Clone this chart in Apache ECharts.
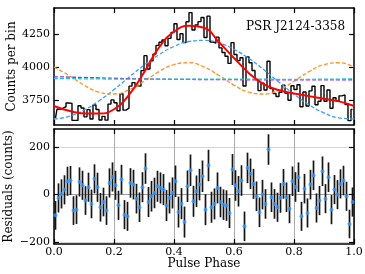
<!DOCTYPE html>
<html>
<head>
<meta charset="utf-8">
<script src="https://cdn.jsdelivr.net/npm/echarts@6/dist/echarts.min.js"></script>
<style>
  html, body { margin: 0; padding: 0; background: #fff; }
  #chart { width: 365px; height: 274px; }
</style>
</head>
<body>
<div id="chart"></div>
<script>
// counts in each of the 100 phase bins
const counts = [
  3614, 3680, 3689, 3699, 3728, 3725, 3595, 3595, 3707, 3689,
  3622, 3677, 3606, 3712, 3678, 3598, 3626, 3597, 3719, 3751,
  3730, 3668, 3798, 3673, 3688, 3856, 3883, 3858, 3856, 3974,
  4088, 3986, 4048, 4100, 4166, 4190, 4207, 4164, 4220, 4265,
  4331, 4211, 4255, 4187, 4346, 4416, 4283, 4322, 4347, 4379,
  4226, 4389, 4192, 4184, 4229, 4147, 4112, 4084, 4029, 4187,
  4097, 4050, 4072, 3857, 4079, 4034, 3975, 3906, 3822, 3879,
  3827, 4046, 3837, 3800, 3777, 3809, 3863, 3802, 3749, 3859,
  3830, 3867, 3699, 3811, 3705, 3820, 3855, 3714, 3741, 3860,
  3741, 3827, 3687, 3767, 3742, 3782, 3789, 3716, 3593, 3678
];
// data - fit
const residuals = [
  -87, -14, 3, 20, 56, 59, -67, -63, 53, 39,
  -25, 31, -39, 66, 31, -53, -31, -67, 49, 74,
  39, -45, 63, -84, -91, 49, 42, -17, -53, 31,
  109, -31, -7, 7, 35, 28, 21, -46, -14, 7,
  56, -73, -38, -115, 35, 102, -28, 14, 42, 77,
  -63, 122, -53, -39, 28, -31, -42, -46, -77, 105,
  38, 14, 59, -133, 112, 87, 45, -7, -74, 0,
  -39, 189, -11, -39, -53, -14, 45, -11, -59, 56,
  32, 73, -91, 25, -77, 42, 81, -56, -25, 98,
  -17, 73, -63, 21, 0, 45, 59, -7, -123, -31
];
// 1 sigma errors
const errors = [
  60, 61, 61, 61, 61, 61, 60, 60, 61, 61,
  60, 61, 60, 61, 61, 60, 60, 60, 61, 61,
  61, 61, 62, 61, 61, 62, 62, 62, 62, 63,
  64, 63, 64, 64, 65, 65, 65, 65, 65, 65,
  66, 65, 65, 65, 66, 66, 65, 66, 66, 66,
  65, 66, 65, 65, 65, 64, 64, 64, 63, 65,
  64, 64, 64, 62, 64, 64, 63, 62, 62, 62,
  62, 64, 62, 62, 61, 62, 62, 62, 61, 62,
  62, 62, 61, 62, 61, 62, 62, 61, 61, 62,
  61, 62, 61, 61, 61, 61, 62, 61, 60, 61
];

// model curves, sampled every 0.05 in phase
const curvePhase = [0, 0.05, 0.1, 0.15, 0.2, 0.25, 0.3, 0.35, 0.4, 0.45, 0.5,
                    0.55, 0.6, 0.65, 0.7, 0.75, 0.8, 0.85, 0.9, 0.95, 1];
const fitTotal = [3705, 3668, 3648, 3648, 3680, 3790, 3960, 4150, 4270, 4315, 4300,
                  4190, 4070, 3955, 3870, 3825, 3800, 3780, 3760, 3740, 3705];
const harm1 = [3606, 3626, 3674, 3744, 3830, 3924, 4015, 4096, 4158, 4196, 4204,
               4184, 4136, 4066, 3980, 3886, 3795, 3714, 3652, 3614, 3606];
const harm2 = [4002, 3937, 3864, 3810, 3796, 3828, 3893, 3966, 4020, 4034, 4002,
               3937, 3864, 3810, 3796, 3828, 3893, 3966, 4020, 4034, 4002];
const harm3 = [3927, 3925, 3922, 3919, 3916, 3913, 3911, 3909, 3908, 3907, 3906,
               3905, 3905, 3904, 3904, 3904, 3904, 3904, 3904, 3904, 3905];
const harm4 = [3914, 3913, 3912, 3911, 3910, 3910, 3910, 3910, 3910, 3910, 3910,
               3910, 3910, 3909, 3909, 3908, 3908, 3908, 3909, 3910, 3911];

const countTicks = [3750, 4000, 4250];
const residTicks = [-200, 0, 200];
const sourceName = 'PSR J2124-3358';

const binPhase = counts.map((c, i) => (i + 0.5) / counts.length);
const pairs = (xs, ys) => xs.map((x, i) => [x, ys[i]]);

const FONT = 'DejaVu Serif';
const frame = { show: true, onZero: false, lineStyle: { color: '#000', width: 1.5 } };
const tick = { show: true, inside: true, length: 5, lineStyle: { color: '#000', width: 1.2 } };

function xAx(grid, pos, labels) {
  return {
    type: 'value', gridIndex: grid, position: pos, min: 0, max: 1, interval: 0.2,
    axisLine: frame, axisTick: tick,
    axisLabel: { show: labels, margin: 3, fontFamily: FONT, fontSize: 11, color: '#000',
                 formatter: v => v.toFixed(1) },
    splitLine: { show: grid === 1 && pos === 'bottom', lineStyle: { color: '#aaaaaa', width: 1 } },
    name: labels ? 'Pulse Phase' : '', nameLocation: 'middle', nameGap: 14, nameMoveOverlap: false,
    nameTextStyle: { fontFamily: FONT, fontSize: 12, color: '#000' }
  };
}
function yAx(grid, pos, labels, lo, hi, ticks, name, gap) {
  return {
    type: 'value', gridIndex: grid, position: pos, min: lo, max: hi,
    axisLine: frame,
    axisTick: Object.assign({}, tick, { customValues: ticks }),
    axisLabel: { show: labels, customValues: ticks, margin: 4, fontFamily: FONT, fontSize: 11,
                 color: '#000', formatter: v => v < 0 ? '\u2212' + (-v) : String(v) },
    splitLine: { show: grid === 1 && pos === 'left',
                 lineStyle: { color: ['#d4d4d4', '#9e9e9e', '#d4d4d4'], width: 1 } },
    name: labels ? name : '', nameLocation: 'middle', nameGap: gap || 36, nameMoveOverlap: false,
    nameTextStyle: { fontFamily: FONT, fontSize: 12, color: '#000' }
  };
}

function dashed(data, color) {
  return {
    type: 'line', xAxisIndex: 0, yAxisIndex: 0, data: data, smooth: 0.5,
    showSymbol: false, symbol: 'none',
    lineStyle: { color: color, width: 1.3, type: [4, 2] }
  };
}

const chart = echarts.init(document.getElementById('chart'), null, { renderer: 'canvas' });
chart.setOption({
  animation: false,
  backgroundColor: '#fff',
  title: {
    text: sourceName, left: 246, top: 21, padding: 0,
    textStyle: { fontFamily: FONT, fontSize: 12, fontWeight: 'normal', color: '#000' }
  },
  grid: [
    { left: 54, top: 8, width: 300, height: 117, outerBoundsMode: 'none', containLabel: false },
    { left: 54, top: 129, width: 300, height: 115, outerBoundsMode: 'none', containLabel: false }
  ],
  xAxis: [xAx(0, 'bottom', false), xAx(0, 'top', false), xAx(1, 'bottom', true), xAx(1, 'top', false)],
  yAxis: [
    yAx(0, 'left', true, 3560, 4451, countTicks, 'Counts per bin', 36),
    yAx(0, 'right', false, 3560, 4451, countTicks, ''),
    yAx(1, 'left', true, -207, 275, residTicks, 'Residuals (counts)', 39),
    yAx(1, 'right', false, -207, 275, residTicks, '')
  ],
  series: [
    {
      type: 'line', xAxisIndex: 0, yAxisIndex: 0, step: 'middle',
      data: pairs(binPhase, counts), showSymbol: false, symbol: 'none',
      lineStyle: { color: '#000', width: 1.4 }
    },
    dashed(pairs(curvePhase, harm1), '#3d9cf5'),
    dashed(pairs(curvePhase, harm2), '#ff9326'),
    dashed(pairs(curvePhase, harm3), '#9632e6'),
    dashed(pairs(curvePhase, harm4), '#1fc8cf'),
    {
      type: 'line', xAxisIndex: 0, yAxisIndex: 0, data: pairs(curvePhase, fitTotal),
      smooth: 0.5, showSymbol: false, symbol: 'none',
      lineStyle: { color: '#ff0000', width: 2 }
    },
    {
      type: 'custom', xAxisIndex: 2, yAxisIndex: 2, clip: true,
      data: binPhase.map((p, i) => [p, residuals[i], errors[i]]),
      encode: { x: 0, y: 1 },
      renderItem: function (params, api) {
        const x = api.value(0), y = api.value(1), e = api.value(2);
        const a = api.coord([x, y - e]);
        const b = api.coord([x, y + e]);
        return {
          type: 'line',
          shape: { x1: a[0], y1: a[1], x2: b[0], y2: b[1] },
          style: { stroke: '#151515', lineWidth: 1.7 }
        };
      }
    },
    {
      type: 'scatter', xAxisIndex: 2, yAxisIndex: 2,
      data: pairs(binPhase, residuals), symbolSize: 4,
      itemStyle: { color: '#3399ff' }, z: 3
    }
  ]
});
</script>
</body>
</html>
